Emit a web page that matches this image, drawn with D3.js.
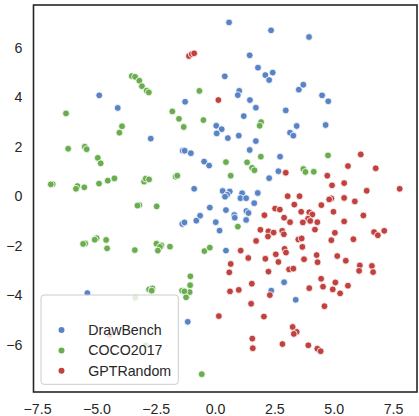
<!DOCTYPE html>
<html>
<head>
<meta charset="utf-8">
<script src="https://cdn.jsdelivr.net/npm/d3@7"></script>
<style>
  body { margin: 0; background: #fff; }
  text { font-family: "Liberation Sans", Arial, sans-serif; fill: #262626; }
</style>
</head>
<body>
<div id="chart"></div>
<script>
// series
var categories = ["DrawBench", "COCO2017", "GPTRandom"];
var colors = ["#5884c6", "#6aad4f", "#c0423f"];

var drawBench = [
  [0.59,7.03],[2.36,6.71],[3.96,6.44],[1.46,5.70],[1.81,5.20],[2.12,4.90],[2.43,5.00],[2.28,4.70],
  [0.41,4.85],[1.02,4.26],[0.96,4.09],[3.53,4.31],[3.72,4.51],[4.51,4.08],[4.77,3.84],[1.47,3.89],
  [1.72,3.58],[2.98,3.47],[1.21,3.24],[0.05,2.85],[0.28,2.71],[0.07,2.54],[0.54,2.35],[1.00,2.45],
  [3.44,2.84],[3.16,2.57],[3.30,2.45],[4.66,2.88],[1.72,2.23],[1.46,1.87],[2.74,1.60],[-0.46,1.40],
  [-0.25,1.24],[2.67,1.01],[2.28,0.73],[0.32,0.21],[0.62,0.19],[0.51,0.06],[0.42,-0.02],[1.14,0.12],
  [1.07,-0.08],[1.31,-0.08],[1.80,0.13],[1.65,-0.28],[-0.22,-0.46],[0.46,-0.56],[-0.63,-0.79],[-0.79,-0.99],
  [-1.38,-1.12],[-1.29,-1.06],[0.03,-1.05],[0.19,-1.39],[0.81,-0.76],[0.83,-0.87],[1.32,-0.60],[1.41,-0.68],
  [1.31,-0.96],[0.46,-2.20],[2.91,-3.48],[2.37,-3.82],[3.40,-4.19],[-4.88,4.08],[-4.10,3.57],[-1.26,3.82],
  [-2.71,2.33],[-1.36,1.84],[-1.28,1.84],[-1.02,1.74],[-0.88,0.30],[-5.38,-3.92],[-1.15,-5.08]
];

var coco2017 = [
  [-3.51,4.86],[-3.37,4.83],[-3.19,4.67],[-3.08,4.45],[-2.88,4.27],[-2.79,4.20],[-0.66,4.26],[-6.28,3.35],
  [-3.92,2.83],[-4.03,2.57],[-1.80,3.43],[-1.52,3.13],[-1.32,2.80],[-0.49,3.08],[-6.19,1.92],[-5.49,2.00],
  [-5.41,1.90],[-4.94,1.55],[-4.82,1.33],[-6.84,0.49],[-6.92,0.48],[-5.80,0.41],[-5.86,0.30],[-5.51,0.36],
  [-4.89,0.51],[-4.52,0.63],[-4.24,0.72],[-2.99,0.59],[-2.92,0.71],[-2.78,0.68],[-1.66,0.79],[-1.59,0.83],
  [-3.19,-0.36],[-3.27,-0.38],[-2.46,-0.41],[1.94,3.00],[1.88,2.85],[1.93,1.60],[0.46,1.38],[1.35,1.37],
  [1.56,1.15],[1.66,1.05],[0.66,0.83],[3.72,1.10],[3.81,0.98],[4.16,0.99],[4.76,1.65],[0.96,-1.23],
  [-0.45,-2.22],[-0.22,-2.08],[-0.56,-7.20],[-5.47,-1.91],[-5.56,-1.93],[-4.99,-1.70],[-5.07,-1.76],[-4.59,-1.77],
  [-4.55,-2.11],[-3.38,-2.18],[-2.47,-1.92],[-2.26,-1.99],[-2.32,-2.05],[-1.90,-2.04],[-2.41,-2.20],[-1.04,-3.24],
  [-1.05,-3.60],[-1.07,-3.88],[-1.39,-3.82],[-1.29,-3.85],[-1.22,-4.09],[-2.78,-3.77],[-2.64,-3.73],[-2.67,-3.82],
  [-3.36,-4.11],[-2.92,-6.03]
];

var gptRandom = [
  [-1.10,5.67],[-0.98,5.75],[-0.88,5.78],[0.14,3.89],[6.14,1.69],[5.60,1.22],[6.77,1.13],[2.98,0.95],
  [4.73,0.83],[4.93,0.44],[5.44,0.53],[6.39,0.22],[7.78,0.30],[3.06,0.00],[3.56,0.00],[3.34,-0.34],
  [4.90,-0.09],[4.81,-0.13],[5.44,-0.07],[5.89,-0.21],[4.48,-0.36],[2.53,-0.50],[2.73,-0.54],[3.63,-0.63],
  [4.99,-0.63],[2.08,-0.77],[2.91,-0.87],[3.16,-1.05],[3.97,-0.65],[4.10,-0.74],[3.92,-0.91],[4.01,-1.00],
  [3.70,-1.06],[4.31,-1.05],[6.25,-0.78],[5.44,-1.02],[4.21,-1.35],[1.91,-1.36],[2.25,-1.42],[2.23,-1.63],
  [2.47,-1.47],[2.83,-1.40],[2.90,-1.54],[1.73,-1.81],[3.51,-1.75],[3.65,-1.71],[3.68,-2.05],[5.05,-1.48],
  [4.90,-1.78],[5.83,-1.74],[6.70,-1.45],[6.86,-1.58],[7.13,-1.40],[1.08,-2.20],[1.40,-2.50],[2.12,-2.53],
  [2.56,-2.35],[2.93,-2.13],[2.99,-2.28],[2.67,-2.66],[3.75,-2.55],[4.28,-2.38],[4.32,-2.67],[5.15,-2.42],
  [5.51,-2.61],[6.10,-2.80],[6.07,-3.02],[6.61,-2.82],[6.66,-3.07],[0.66,-2.74],[0.60,-3.08],[2.25,-3.05],
  [3.12,-2.96],[3.30,-2.93],[1.55,-3.54],[4.47,-3.34],[5.07,-3.49],[5.60,-3.62],[4.55,-3.66],[3.97,-3.72],
  [4.96,-3.77],[5.27,-3.93],[0.63,-3.85],[1.00,-3.79],[2.31,-4.00],[1.52,-4.35],[4.61,-4.45],[0.16,-4.85],
  [2.06,-4.87],[3.27,-5.29],[3.44,-5.49],[3.32,-5.57],[1.57,-5.76],[1.59,-6.15],[2.84,-5.98],[3.93,-6.03],
  [4.31,-6.17],[4.45,-6.27],[-4.44,-5.61]
];

var xTicks = [-7.5, -5, -2.5, 0, 2.5, 5, 7.5];
var yTicks = [-6, -4, -2, 0, 2, 4, 6];

var width = 419, height = 416;
var mLeft = 33.5, mRight = 417, mTop = 5, mBottom = 392;

var svg = d3.select("#chart")
  .append("svg")
  .attr("width", width)
  .attr("height", height);

var x = d3.scaleLinear().domain([-7.65, 8.51]).range([mLeft, mRight]);
var y = d3.scaleLinear().domain([-7.92, 7.735]).range([mBottom, mTop]);

// axes (no tick marks, seaborn white style)
var xAxis = d3.axisBottom(x).tickValues(xTicks).tickFormat(d3.format(".1f"))
  .tickSize(0).tickPadding(12);
var yAxis = d3.axisLeft(y).tickValues(yTicks).tickFormat(d3.format("d"))
  .tickSize(0).tickPadding(11.2);

svg.append("g").attr("transform", "translate(0," + mBottom + ")").call(xAxis)
  .call(g => g.select(".domain").remove());
svg.append("g").attr("transform", "translate(" + mLeft + ",0)").call(yAxis)
  .call(g => g.select(".domain").remove());
svg.selectAll(".tick text")
  .style("font-family", '"Liberation Sans", Arial, sans-serif')
  .style("font-size", "14.2px")
  .attr("fill", "#262626");

// points
var series = [drawBench, coco2017, gptRandom];
series.forEach(function (pts, i) {
  svg.append("g").selectAll("circle")
    .data(pts)
    .enter()
    .append("circle")
    .attr("cx", d => x(d[0]))
    .attr("cy", d => y(d[1]))
    .attr("r", 3.4)
    .attr("fill", colors[i])
    .attr("stroke", "#fff")
    .attr("stroke-width", 0.8);
});

// frame
svg.append("rect")
  .attr("x", mLeft).attr("y", mTop)
  .attr("width", mRight - mLeft).attr("height", mBottom - mTop)
  .attr("fill", "none")
  .attr("stroke", "#262626")
  .attr("stroke-width", 1.6);

// legend (empty title row on top)
var legend = svg.append("g");
legend.append("rect")
  .attr("x", 41).attr("y", 295)
  .attr("width", 137.3).attr("height", 89.3)
  .attr("rx", 3)
  .attr("fill", "#fff").attr("fill-opacity", 0.8)
  .attr("stroke", "#cccccc").attr("stroke-width", 1);

categories.forEach(function (c, i) {
  var cy = 330 + i * 20.4;
  legend.append("circle")
    .attr("cx", 61.5).attr("cy", cy).attr("r", 3)
    .attr("fill", colors[i]);
  legend.append("text")
    .attr("x", 88.3).attr("y", cy)
    .attr("dy", "0.35em")
    .style("font-size", "14.2px")
    .text(c);
});
</script>
</body>
</html>
